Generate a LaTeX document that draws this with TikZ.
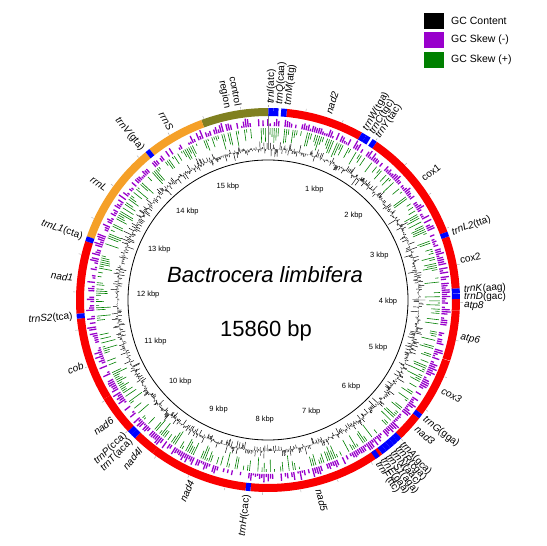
\documentclass[tikz,border=0pt]{standalone}
\usepackage{fontspec}
\setmainfont{Liberation Sans}
\definecolor{gred}{RGB}{250,0,0}
\definecolor{gorange}{RGB}{245,160,40}
\definecolor{golive}{RGB}{128,128,32}
\definecolor{gblue}{RGB}{0,0,255}
\definecolor{gpurple}{RGB}{153,0,204}
\definecolor{ggreen}{RGB}{0,128,0}
\newcommand\bpf{0.0226986}
\newcommand\gseg[3]{%
  \pgfmathsetmacro\gsa{90-#1*\bpf}%
  \pgfmathsetmacro\gsb{90-#2*\bpf}%
  \draw[line width=8pt,#3] (\gsa:188) arc[start angle=\gsa, end angle=\gsb, radius=188];}
\newcommand\glab[3]{%
  \pgfmathsetmacro\gth{#2}%
  \ifdim\gth pt<180pt
    \node[glabel,anchor=west,rotate={90-\gth}] (#1) at ({90-\gth}:196) {#3};
  \else
    \node[glabel,anchor=east,rotate={270-\gth}] (#1) at ({90-\gth}:196) {#3};
  \fi}
\begin{document}
\begin{tikzpicture}[x=1pt,y=1pt,
  glabel/.style={font=\fontsize{10}{10.5}\selectfont, inner sep=0pt, align=right},
  kbp/.style={font=\fontsize{7.5}{8}\selectfont, inner sep=0pt},
  gcc/.style={black, line width=0.45pt},
  skewn/.style={gpurple, line width=1.3pt},
  skewp/.style={ggreen, line width=0.6pt},
  legbox/.style={minimum width=20pt, minimum height=16pt, inner sep=0pt},
  legtext/.style={font=\fontsize{10.5}{12}\selectfont, anchor=west, inner sep=0pt}]
\useasboundingbox (0,0) rectangle (546,546);
\fill[white] (0,0) rectangle (546,546);
\begin{scope}[shift={(268,246)}]
  % inner circle
  \draw[black, line width=0.8pt] (0,0) circle[radius=140];
  \pgfmathsetseed{4711}
  % GC content
  \foreach \a in {0,0.3,...,359.8} {
    \pgfmathsetmacro\rr{151+9*rand*rnd}
    \draw[gcc] ({90-\a}:151) -- ({90-\a}:\rr);
  }
  % GC skew
  \foreach \a in {0,0.7,...,359.4} {
    \pgfmathsetmacro\pp{rnd}
    \pgfmathsetmacro\lp{174+2+7*rnd}
    \pgfmathsetmacro\gg{rnd}
    \pgfmathsetmacro\lg{172-2-14*rnd}
    \ifdim\pp pt<0.8pt \draw[skewn] ({90-\a}:174) -- ({90-\a}:\lp);\fi
    \ifdim\gg pt<0.6pt \draw[skewp] ({90-\a}:172) -- ({90-\a}:\lg);\fi
  }
  % start line
  \draw[gray, line width=0.5pt] (90:150) -- (90:186);
  % outer ticks
  \foreach \k in {0,1,...,31} {
    \draw[gray!70, line width=0.4pt] ({90-\k*11.3493}:192.5) -- ({90-\k*11.3493}:195);
  }
  % genes
  \gseg{14960}{15860}{golive}
  \gseg{250}{1290}{gred}
  \gseg{1520}{3045}{gred}
  \gseg{3110}{3810}{gred}
  \gseg{3950}{4105}{gred}
  \gseg{4105}{4777}{gred}
  \gseg{4783}{5575}{gred}
  \gseg{5640}{5990}{gred}
  \gseg{6318}{8160}{gred}
  \gseg{8225}{9555}{gred}
  \gseg{9555}{9860}{gred}
  \gseg{9990}{10520}{gred}
  \gseg{10520}{11645}{gred}
  \gseg{11710}{12680}{gred}
  \gseg{12745}{14110}{gorange}
  \gseg{14175}{14960}{gorange}
  % tRNAs
  \gseg{5}{70}{gblue}
  \gseg{70}{140}{gblue}
  \gseg{175}{250}{gblue}
  \gseg{1290}{1357}{gblue}
  \gseg{1357}{1423}{gblue}
  \gseg{1454}{1520}{gblue}
  \gseg{3045}{3110}{gblue}
  \gseg{3810}{3878}{gblue}
  \gseg{3882}{3950}{gblue}
  \gseg{5575}{5640}{gblue}
  \gseg{5990}{6055}{gblue}
  \gseg{6055}{6120}{gblue}
  \gseg{6120}{6185}{gblue}
  \gseg{6185}{6250}{gblue}
  \gseg{6250}{6318}{gblue}
  \gseg{6360}{6425}{gblue}
  \gseg{8160}{8225}{gblue}
  \gseg{9860}{9925}{gblue}
  \gseg{9925}{9990}{gblue}
  \gseg{11645}{11710}{gblue}
  \gseg{12680}{12745}{gblue}
  \gseg{14110}{14175}{gblue}
  % labels
  \glab{lI}{0.9}{\textit{trnI}(atc)}
  \glab{lQ}{3.4}{\textit{trnQ}(caa)}
  \glab{lM}{5.9}{\textit{trnM}(atg)}
  \glab{lnad2}{18}{\textit{nad2}}
  \glab{lW}{29.8}{\textit{trnW}(tga)}
  \glab{lC}{31.9}{\textit{trnC}(tgc)}
  \glab{lY}{34.0}{\textit{trnY}(tac)}
  \glab{lcox1}{52}{cox1}
  \glab{lL2}{69.9}{\textit{trnL2}(tta)}
  \glab{lcox2}{78.2}{cox2}
  \glab{lK}{87.0}{\textit{trnK}(aag)}
  \glab{lD}{89.2}{\textit{trnD}(gac)}
  \glab{latp8}{91.6}{\textit{atp8}}
  \glab{latp6}{101}{\textit{atp6}}
  \glab{lcox3}{117.4}{\textit{cox3}}
  \glab{lG}{127.3}{\textit{trnG}(gga)}
  \glab{lnad3}{130.8}{\textit{nad3}}
  \glab{lA}{137.0}{\textit{trnA}(gca)}
  \glab{lR}{138.8}{\textit{trnR}(cga)}
  \glab{lN}{140.6}{\textit{trnN}(aac)}
  \glab{lS1}{142.4}{\textit{trnS1}(aga)}
  \glab{lE}{144.2}{\textit{trnE}(gaa)}
  \glab{lF}{146.0}{\textit{trnF}(ttc)}
  \glab{lnad5}{165}{\textit{nad5}}
  \glab{lH}{186.2}{\textit{trnH}(cac)}
  \glab{lnad4}{203}{\textit{nad4}}
  \glab{lnad4l}{220.5}{\textit{nad4l}}
  \glab{lT}{224.3}{\textit{trnT}(aca)}
  \glab{lP}{226.7}{\textit{trnP}(cca)}
  \glab{lnad6}{232.5}{\textit{nad6}}
  \glab{lcob}{250.5}{\textit{cob}}
  \glab{lS2}{265.2}{\textit{trnS2}(tca)}
  \glab{lnad1}{276.5}{\textit{nad1}}
  \glab{lL1}{288.8}{\textit{trnL1}(cta)}
  \glab{lrrnL}{304.5}{\textit{rrnL}}
  \glab{lV}{320.2}{\textit{trnV}(gta)}
  \glab{lrrnS}{330.3}{\textit{rrnS}}
  \glab{lctrl}{349.5}{control\\region}
  % kbp labels
  \foreach \k in {1,...,15} {
    \node[kbp] (k\k) at ({90-\k*22.6986}:120) {\k\ kbp};
  }
  % centre text
  \node[font=\itshape\fontsize{22}{26}\selectfont, inner sep=0pt] (title) at (-3,25) {Bactrocera limbifera};
  \node[font=\fontsize{22}{26}\selectfont, inner sep=0pt] (size) at (-2,-31) {15860 bp};
\end{scope}
% legend
\node[legbox, fill=black] (lg1) at (434,525) {};
\node[legbox, fill=gpurple] (lg2) at (434,506) {};
\node[legbox, fill=ggreen] (lg3) at (434,486) {};
\node[legtext] (lt1) at (451,525) {GC Content};
\node[legtext] (lt2) at (451,506) {GC Skew (-)};
\node[legtext] (lt3) at (451,486) {GC Skew (+)};
\end{tikzpicture}
\end{document}
